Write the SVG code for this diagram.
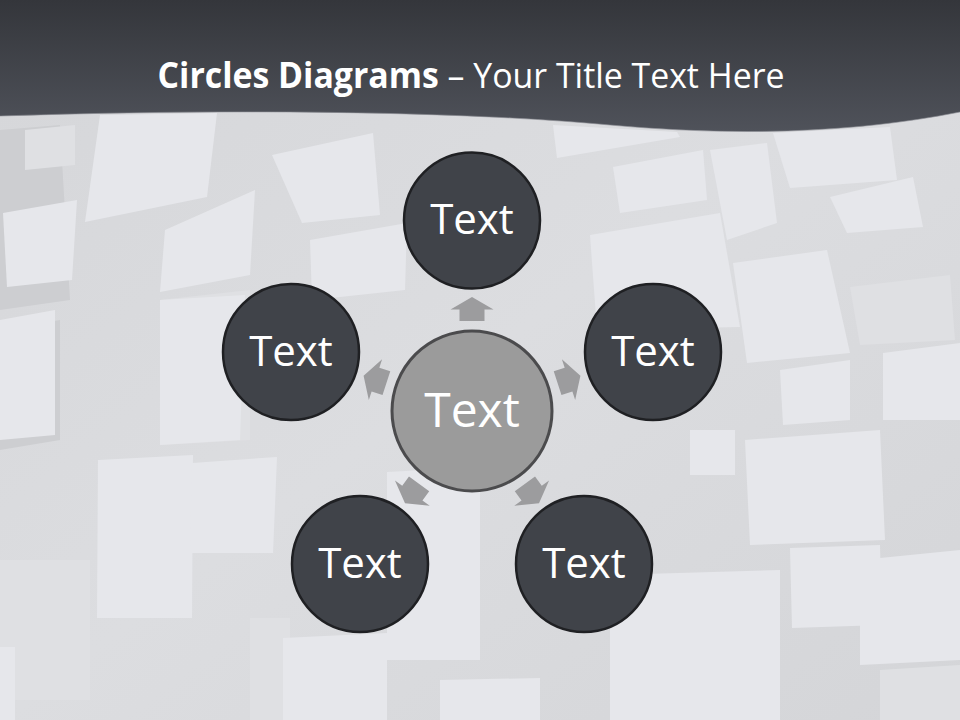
<svg xmlns="http://www.w3.org/2000/svg" width="960" height="720" viewBox="0 0 960 720">
  <defs>
    <linearGradient id="hdr" x1="0" y1="0" x2="0" y2="1">
      <stop offset="0" stop-color="#34363b"/>
      <stop offset="1" stop-color="#4f525a"/>
    </linearGradient>
    <linearGradient id="bg" x1="0" y1="0" x2="1" y2="1">
      <stop offset="0" stop-color="#d5d6d9"/>
      <stop offset="0.5" stop-color="#dcdde0"/>
      <stop offset="1" stop-color="#d4d5d8"/>
    </linearGradient>
    <path id="arr" d="M0,-12 L21.5,0.5 L12.5,0.5 L12.5,12 L-12.5,12 L-12.5,0.5 L-21.5,0.5 Z"/>
  </defs>
  <style>
    .lt { fill: #e6e7eb; }
    .md { fill: #dfe0e3; }
    .dk { fill: #cdced1; }
    .node { fill: #404349; stroke: #1f2023; stroke-width: 2.5; }
    .hub { fill: #9b9b9b; stroke: #4b4b4d; stroke-width: 3; }
    .lbl { font-family: "Open Sans", "Noto Sans", "DejaVu Sans", sans-serif; fill: #ffffff; text-anchor: middle; }
    .arrow { fill: #9c9c9e; }
  </style>

  <!-- background cubes -->
  <rect x="0" y="0" width="960" height="720" fill="url(#bg)"/>
  <g id="background">
    <polygon class="dk" points="0,130 60,125 70,300 0,310"/>
    <polygon class="lt" points="100,115 217,113 207,197 85,222"/>
    <polygon class="lt" points="3,213 77,200 72,280 7,287"/>
    <polygon class="md" points="25,130 75,125 75,165 25,170"/>
    <polygon class="lt" points="165,230 255,190 250,275 160,292"/>
    <polygon class="lt" points="272,155 373,133 380,215 302,223"/>
    <polygon class="lt" points="310,240 407,223 405,290 312,300"/>
    <polygon class="dk" points="0,330 60,320 60,440 0,450"/>
    <polygon class="lt" points="0,320 55,310 55,435 0,440"/>
    <polygon class="md" points="160,300 250,290 250,440 160,445"/>
    <polygon class="lt" points="160,300 245,295 240,440 160,445"/>
    <polygon class="lt" points="98,460 193,455 192,618 97,618"/>
    <polygon class="lt" points="192,463 277,457 273,553 190,553"/>
    <polygon class="md" points="0,560 90,560 90,700 0,700"/>
    <polygon class="lt" points="0,647 15,647 15,720 0,720"/>
    <polygon class="md" points="250,618 290,618 290,720 250,720"/>
    <polygon class="lt" points="283,638 387,633 387,720 283,720"/>
    <polygon class="lt" points="387,472 480,467 480,660 387,660"/>
    <polygon class="lt" points="440,680 540,678 540,720 440,720"/>
    <polygon class="lt" points="553,125 677,132 680,137 557,158"/>
    <polygon class="lt" points="613,167 703,150 707,200 620,213"/>
    <polygon class="lt" points="710,150 767,143 777,223 727,240"/>
    <polygon class="lt" points="773,133 890,127 897,180 790,188"/>
    <polygon class="lt" points="830,197 913,177 923,227 847,233"/>
    <polygon class="lt" points="590,235 720,213 740,327 597,330"/>
    <polygon class="lt" points="733,263 827,250 850,353 747,363"/>
    <polygon class="md" points="850,287 950,275 955,340 860,345"/>
    <polygon class="lt" points="780,370 850,360 850,420 783,425"/>
    <polygon class="lt" points="883,353 960,343 960,420 883,420"/>
    <polygon class="lt" points="745,440 880,430 885,540 750,545"/>
    <polygon class="lt" points="690,430 735,430 735,475 690,475"/>
    <polygon class="lt" points="790,548 880,545 882,625 792,628"/>
    <polygon class="lt" points="610,575 780,570 780,720 610,720"/>
    <polygon class="lt" points="860,560 960,550 960,660 860,665"/>
    <polygon class="md" points="880,670 960,665 960,720 880,720"/>
  </g>

  <!-- header -->
  <g id="header">
    <path d="M0,0 H960 V112 C850,134 730,136 610,125 C470,112 250,108 0,116 Z" fill="url(#hdr)"/>
    <path d="M0,116 C250,108 470,112 610,125 C730,136 850,134 960,112" fill="none" stroke="#8a8c92" stroke-width="1" opacity="0.6"/>
    <text x="471" y="88" font-family="'Open Sans', 'Noto Sans', sans-serif" font-size="35" fill="#ffffff" text-anchor="middle" textLength="627" lengthAdjust="spacingAndGlyphs"><tspan font-weight="bold">Circles Diagrams</tspan> – Your Title Text Here</text>
  </g>

  <!-- connectors (arrows) -->
  <g id="connectors" class="arrow">
    <use href="#arr" transform="rotate(0 472 411) translate(472 309)"/>
    <use href="#arr" transform="rotate(72 472 411) translate(472 309)"/>
    <use href="#arr" transform="rotate(144 472 411) translate(472 309)"/>
    <use href="#arr" transform="rotate(216 472 411) translate(472 309)"/>
    <use href="#arr" transform="rotate(288 472 411) translate(472 309)"/>
  </g>

  <!-- nodes -->
  <g id="node-center">
    <circle class="hub" cx="472" cy="411" r="80"/>
    <text class="lbl" x="472" y="427" font-size="48">Text</text>
  </g>
  <g id="node-top">
    <circle class="node" cx="472" cy="220.5" r="68"/>
    <text class="lbl" x="472" y="234" font-size="42">Text</text>
  </g>
  <g id="node-right">
    <circle class="node" cx="653" cy="352" r="68"/>
    <text class="lbl" x="653" y="366" font-size="42">Text</text>
  </g>
  <g id="node-left">
    <circle class="node" cx="291" cy="352" r="68"/>
    <text class="lbl" x="291" y="366" font-size="42">Text</text>
  </g>
  <g id="node-bottom-right">
    <circle class="node" cx="584" cy="564" r="68"/>
    <text class="lbl" x="584" y="578" font-size="42">Text</text>
  </g>
  <g id="node-bottom-left">
    <circle class="node" cx="360" cy="564" r="68"/>
    <text class="lbl" x="360" y="578" font-size="42">Text</text>
  </g>
</svg>
